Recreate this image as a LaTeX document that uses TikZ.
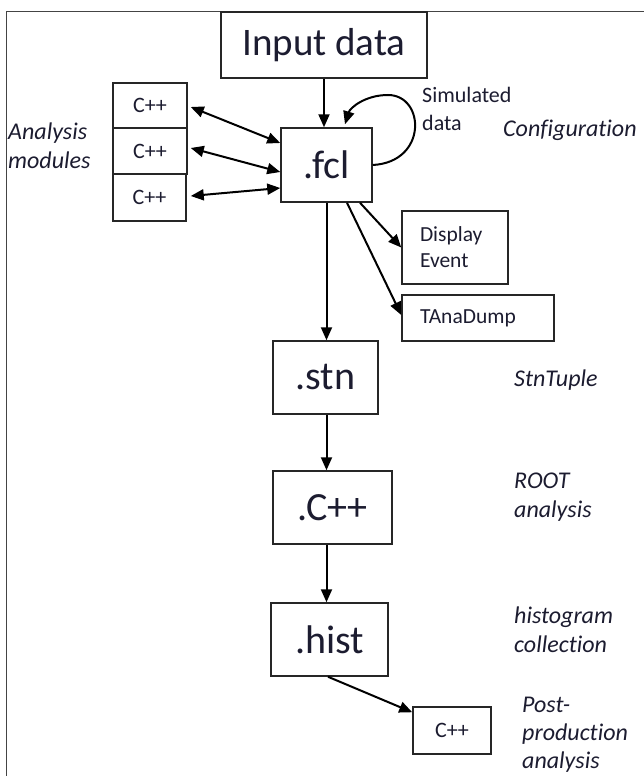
\documentclass[tikz,border=0pt]{standalone}
\usepackage{fontspec}
\setmainfont{Carlito}[Ligatures=NoCommon]
\usetikzlibrary{arrows.meta}
\definecolor{txt}{HTML}{1C1C30}
\definecolor{frm}{HTML}{444444}
\begin{document}
\begin{tikzpicture}[x=1pt,y=-1pt,
  box/.style={draw=black!85,line width=1.5pt,rectangle,inner sep=0pt,text=txt},
  big/.style={box,font=\fontsize{40}{48}\selectfont},
  small/.style={box,font=\fontsize{22}{27}\selectfont},
  lbox/.style={box,font=\fontsize{21.5}{26}\selectfont,align=left,inner xsep=18pt},
  arr/.style={line width=2pt,-{Triangle[length=13pt,width=11pt]}},
  biarr/.style={line width=2pt,{Triangle[length=13pt,width=11pt]}-{Triangle[length=13pt,width=11pt]}},
  side/.style={font=\fontsize{24}{29}\selectfont\itshape,text=txt,align=left,anchor=west,inner sep=0pt}
]
\useasboundingbox (0,0) rectangle (644,776);
\clip (0,0) rectangle (644,776);
\fill[white] (0,0) rectangle (644,776);
\draw[frm,line width=1.8pt] (6.5,11.5) rectangle (700,800);

% main nodes
\node[big,font=\fontsize{39}{46}\selectfont,minimum width=206pt,minimum height=66pt] (inp) at (324,45) {Input data};
\node[big,minimum width=91pt,minimum height=74pt] (fcl) at (326.5,165) {.fcl};
\node[small,minimum width=74pt,minimum height=45pt] (c1) at (150,105.5) {C++};
\node[small,minimum width=74pt,minimum height=46pt] (c2) at (150,151) {C++};
\node[small,minimum width=73pt,minimum height=47pt] (c3) at (149.5,197.5) {C++};
\node[lbox,text width=70pt,minimum height=73pt] (disp) at (455,247.5) {Display\\Event};
\node[lbox,text width=116pt,minimum height=46pt] (tana) at (478,318) {TAnaDump};
\node[big,minimum width=105pt,minimum height=73pt] (stn) at (325.5,377.5) {.stn};
\node[big,minimum width=119pt,minimum height=73pt] (cpp) at (332.5,507.5) {.C++};
\node[big,minimum width=117pt,minimum height=73pt] (hist) at (329.5,639.5) {.hist};
\node[small,minimum width=78pt,minimum height=47pt] (post) at (452,730.5) {C++};

% labels
\node[font=\fontsize{22}{28}\selectfont,text=txt,align=left,anchor=west,inner sep=0pt] (sim) at (422,109) {Simulated\\data};
\node[side] (lana) at (8,146) {Analysis\\modules};
\node[side] (lconf) at (503,130) {Configuration};
\node[side] (lstn) at (514,380) {StnTuple};
\node[side] (lroot) at (514,497) {ROOT\\analysis};
\node[side] (lhist) at (514,630) {histogram\\collection};
\node[side,font=\fontsize{24}{28}\selectfont\itshape] (lpost) at (522,735) {Post-\\production\\analysis};

% connectors
\draw[arr] (inp.south) -- (inp.south |- fcl.north);
\draw[arr] (fcl.east) .. controls (428,162) and (425,95) .. (388,95)
  .. controls (365,95) and (350,108) .. ([shift={(18.5,-3)}]fcl.north);
\draw[biarr] ([shift={(3,1.5)}]c1.east) -- ([shift={(0,-22)}]fcl.west);
\draw[biarr] ([shift={(3,-3)}]c2.east) -- ([shift={(0,7)}]fcl.west);
\draw[biarr] ([shift={(4,-1.5)}]c3.east) -- ([shift={(0,23)}]fcl.west);
\draw[arr] ([shift={(33.5,0)}]fcl.south) -- (disp.west);
\draw[arr] ([shift={(20.5,0)}]fcl.south) -- ([shift={(0,-3)}]tana.west);
\draw[arr] (fcl.south) -- (fcl.south |- stn.north);
\draw[arr] (fcl.south |- stn.south) -- (fcl.south |- cpp.north);
\draw[arr] (fcl.south |- cpp.south) -- (fcl.south |- hist.north);
\draw[arr] ([shift={(-1.5,0)}]hist.south) -- ([shift={(0,6)}]post.north west);
\end{tikzpicture}
\end{document}
